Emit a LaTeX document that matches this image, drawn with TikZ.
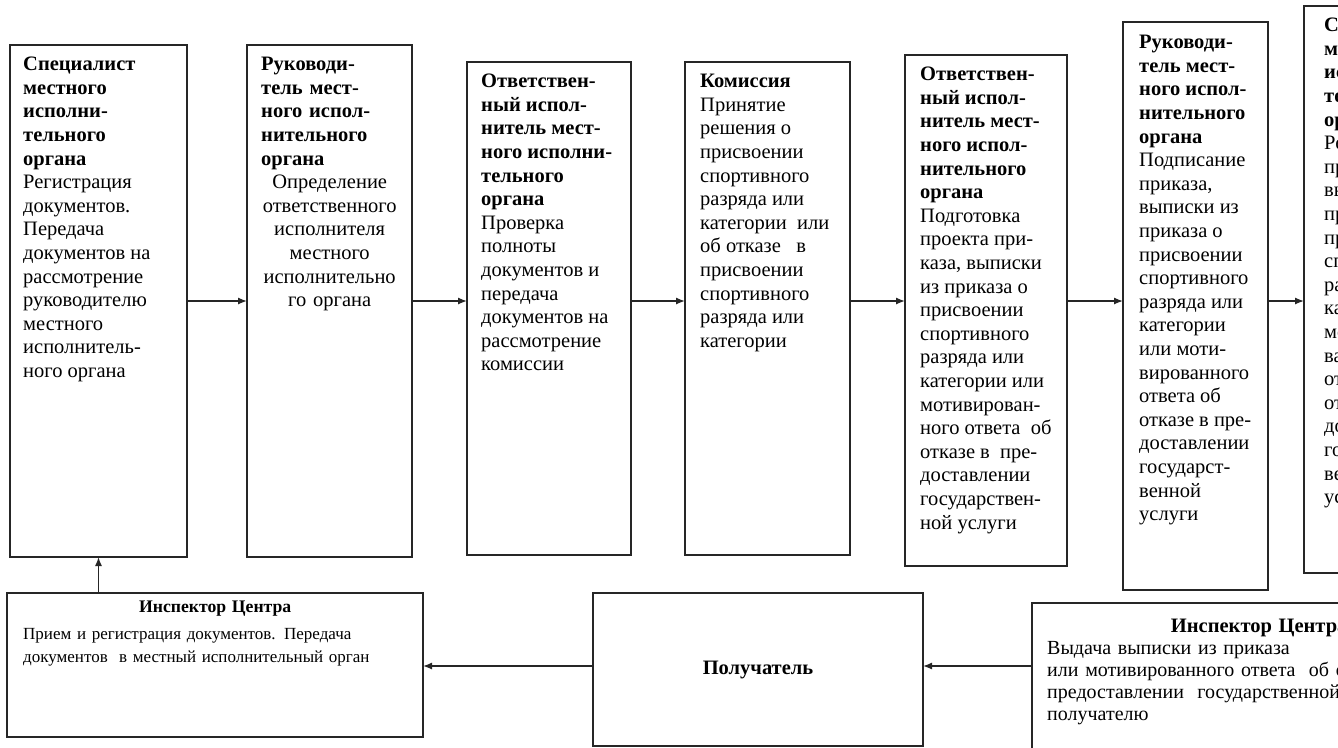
\documentclass[tikz,border=0pt]{standalone}
\usepackage{fontspec}
\setmainfont{Liberation Serif}
\usetikzlibrary{positioning, arrows.meta}
\setlength{\parindent}{0pt}

\begin{document}
\begin{tikzpicture}[x=1pt, y=1pt, font=\fontsize{17}{23.6}\selectfont,
    stepbox/.style={draw=black!85, line width=1.4pt, inner sep=0pt, outer sep=0pt, anchor=north west},
    steptext/.style={inner sep=0pt, align=left, font=\fontsize{20.5}{23.6}\selectfont},
    flow/.style={-{Latex[length=9pt, width=7pt]}, line width=1.3pt, draw=black!85}]
    \useasboundingbox (0,0) rectangle (1338,-747);
    \clip (0,0) rectangle (1338,-747);

    % upper row
    \node[stepbox, minimum width=177pt, minimum height=512pt] (Step 1) at (10,-45) {};
    \node[stepbox, minimum width=165pt, minimum height=512pt, right=60pt of Step 1.north east, anchor=north west] (Step 2) {};
    \node[stepbox, minimum width=164pt, minimum height=493pt, right=55pt of Step 2.north east, anchor=north west, yshift=-17pt] (Step 3) {};
    \node[stepbox, minimum width=165pt, minimum height=493pt, right=54pt of Step 3.north east, anchor=north west] (Step 4) {};
    \node[stepbox, minimum width=162pt, minimum height=511pt, right=55pt of Step 4.north east, anchor=north west, yshift=7pt] (Step 5) {};
    \node[stepbox, minimum width=145pt, minimum height=568pt, right=56pt of Step 5.north east, anchor=north west, yshift=33pt] (Step 6) {};
    \node[stepbox, minimum width=160pt, minimum height=567pt, right=36pt of Step 6.north east, anchor=north west, yshift=16pt] (Step 7) {};

    \node[steptext, below right=12pt and 13pt of Step 1.north west] (Text 1)
        {\textbf{Специалист}\\\textbf{местного}\\\textbf{исполни-}\\\textbf{тельного}\\\textbf{органа}\\
         Регистрация\\документов.\\Передача\\документов на\\рассмотрение\\руководителю\\местного\\исполнитель-\\ного органа};
    \node[steptext, text width=137pt, below right=12pt and 14pt of Step 2.north west] (Text 2)
        {\textbf{Руководи-\\тель мест-\\ного испол-\\нительного\\органа}\par
         \centering Определение\\ответственного\\исполнителя\\местного\\исполнительно\\го органа\par};
    \node[steptext, below right=12pt and 14pt of Step 3.north west] (Text 3)
        {\textbf{Ответствен-}\\\textbf{ный испол-}\\\textbf{нитель мест-}\\\textbf{ного исполни-}\\\textbf{тельного}\\\textbf{органа}\\
         Проверка\\полноты\\документов и\\передача\\документов на\\рассмотрение\\комиссии};
    \node[steptext, below right=12pt and 15pt of Step 4.north west] (Text 4)
        {\textbf{Комиссия}\\Принятие\\решения о\\присвоении\\спортивного\\разряда или\\категории\ \ или\\
         об отказе\ \ \ в\\присвоении\\спортивного\\разряда или\\категории};
    \node[steptext, below right=12pt and 15pt of Step 5.north west] (Text 5)
        {\textbf{Ответствен-}\\\textbf{ный испол-}\\\textbf{нитель мест-}\\\textbf{ного испол-}\\\textbf{нительного}\\\textbf{органа}\\
         Подготовка\\проекта при-\\каза,\ выписки\\из приказа о\\присвоении\\спортивного\\разряда или\\категории или\\
         мотивирован-\\ного ответа\ \ об\\отказе в\ \ пре-\\доставлении\\государствен-\\ной услуги};
    \node[steptext, below right=13pt and 16pt of Step 6.north west] (Text 6)
        {\textbf{Руководи-}\\\textbf{тель мест-}\\\textbf{ного испол-}\\\textbf{нительного}\\\textbf{органа}\\
         Подписание\\приказа,\\выписки из\\приказа о\\присвоении\\спортивного\\разряда или\\категории\\или моти-\\
         вированного\\ответа об\\отказе в пре-\\доставлении\\государст-\\венной\\услуги};
    \node[steptext, below right=12pt and 20pt of Step 7.north west] (Text 7)
        {\textbf{Специалист}\\\textbf{местного}\\\textbf{исполни-}\\\textbf{тельного}\\\textbf{органа}\\
         Регистрация\\приказа,\\выписки из\\приказа о\\присвоении\\спортивного\\разряда или\\категории или\\
         мотивиро-\\ванного\\ответа об\\отказе в пре-\\доставлении\\государст-\\венной\\услуги};

    % lower row
    \node[stepbox, minimum width=416pt, minimum height=144pt] (Center In) at (7,-593) {};
    \node[stepbox, minimum width=330pt, minimum height=153pt, font=\fontsize{20.5}{23.6}\selectfont,
          right=170pt of Center In.north east, anchor=north west] (Applicant) {\textbf{Получатель}};
    \node[stepbox, minimum width=454pt, minimum height=160pt, right=109pt of Applicant.north east, anchor=north west, yshift=-10pt] (Center Out) {};

    \node[steptext, font=\fontsize{17}{23.6}\selectfont, text width=384pt, below right=8pt and 16pt of Center In.north west] (Text In)
        {{\centering\textbf{\fontsize{17.7}{23.6}\selectfont Инспектор Центра}\par}\vspace{3pt}
         Прием и регистрация документов. Передача\\документов\ \ в местный исполнительный орган};
    \node[steptext, font=\fontsize{20}{22}\selectfont, text width=424pt, below right=16pt and 15pt of Center Out.north west] (Text Out)
        {{\centering\textbf{\fontsize{20.5}{22}\selectfont Инспектор Центра}\par}
         Выдача выписки из приказа\\или мотивированного ответа\ \ об отказе в\\
         предоставлении\ \ государственной услуги\\получателю};

    % connectors
    \coordinate (flow) at (0,-301);
    \coordinate (back) at (0,-666);
    \foreach \a/\b in {1/2, 2/3, 3/4, 4/5, 5/6, 6/7}
        \draw[flow] (Step \a.east |- flow) -- (Step \b.west |- flow);
    \draw[flow] (Center Out.west |- back) -- (Applicant.east |- back);
    \draw[flow] (Applicant.west |- back) -- (Center In.east |- back);
    \draw[flow] (Center In.north -| Step 1.south) -- (Step 1.south);
\end{tikzpicture}
\end{document}
